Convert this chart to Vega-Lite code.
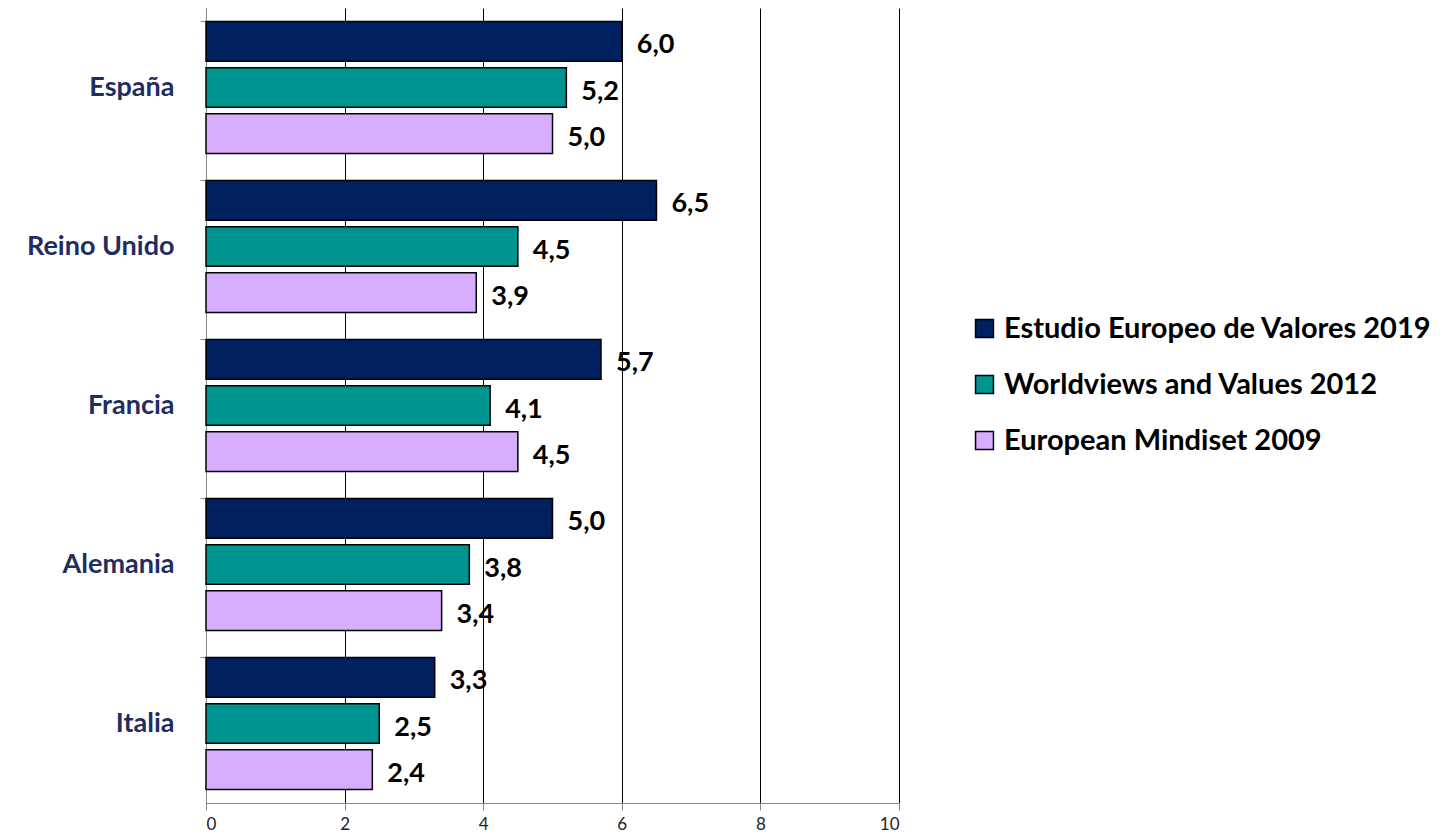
{
  "$schema": "https://vega.github.io/schema/vega-lite/v6.json",
  "width": 693,
  "height": 795,
  "autosize": {"type": "none"},
  "padding": {"left": 206, "top": 8, "right": 551, "bottom": 35},
  "background": "white",
  "config": {
    "view": {"stroke": null},
    "locale": {"number": {"decimal": ",", "thousands": ".", "grouping": [3], "currency": ["", " €"]}}
  },
  "data": {
    "values": [
      {"pais": "España", "serie": "Estudio Europeo de Valores 2019", "valor": 6.0},
      {"pais": "España", "serie": "Worldviews and Values 2012", "valor": 5.2},
      {"pais": "España", "serie": "European Mindiset 2009", "valor": 5.0},
      {"pais": "Reino Unido", "serie": "Estudio Europeo de Valores 2019", "valor": 6.5},
      {"pais": "Reino Unido", "serie": "Worldviews and Values 2012", "valor": 4.5},
      {"pais": "Reino Unido", "serie": "European Mindiset 2009", "valor": 3.9},
      {"pais": "Francia", "serie": "Estudio Europeo de Valores 2019", "valor": 5.7},
      {"pais": "Francia", "serie": "Worldviews and Values 2012", "valor": 4.1},
      {"pais": "Francia", "serie": "European Mindiset 2009", "valor": 4.5},
      {"pais": "Alemania", "serie": "Estudio Europeo de Valores 2019", "valor": 5.0},
      {"pais": "Alemania", "serie": "Worldviews and Values 2012", "valor": 3.8},
      {"pais": "Alemania", "serie": "European Mindiset 2009", "valor": 3.4},
      {"pais": "Italia", "serie": "Estudio Europeo de Valores 2019", "valor": 3.3},
      {"pais": "Italia", "serie": "Worldviews and Values 2012", "valor": 2.5},
      {"pais": "Italia", "serie": "European Mindiset 2009", "valor": 2.4}
    ]
  },
  "encoding": {
    "y": {
      "field": "pais", "type": "nominal",
      "sort": ["España", "Reino Unido", "Francia", "Alemania", "Italia"],
      "scale": {"paddingInner": 0.17, "paddingOuter": 0.085},
      "axis": {
        "title": null, "bandPosition": 0, "domainColor": "#888888", "tickColor": "#888888",
        "tickSize": 6, "labelFont": "Lato", "labelFontWeight": "bold", "labelFontSize": 27,
        "labelColor": "#1F2D5F", "labelPadding": 26, "grid": false
      }
    },
    "yOffset": {
      "field": "serie", "type": "nominal",
      "sort": ["Estudio Europeo de Valores 2019", "Worldviews and Values 2012", "European Mindiset 2009"],
      "scale": {"paddingInner": 0.14}
    },
    "x": {
      "field": "valor", "type": "quantitative",
      "scale": {"domain": [0, 10]},
      "axis": {
        "title": null, "values": [0, 2, 4, 6, 8, 10], "format": "d", "grid": true, "gridColor": "#000000",
        "gridWidth": 1, "domainColor": "#888888", "tickColor": "#888888", "tickSize": 7,
        "labelFont": "Lato", "labelFontSize": 17, "labelColor": "#222222", "labelPadding": 6
      }
    }
  },
  "layer": [
    {
      "mark": {"type": "bar", "stroke": "#000000", "strokeWidth": 1.5},
      "encoding": {
        "color": {
          "field": "serie", "type": "nominal",
          "sort": ["Estudio Europeo de Valores 2019", "Worldviews and Values 2012", "European Mindiset 2009"],
          "scale": {
            "domain": ["Estudio Europeo de Valores 2019", "Worldviews and Values 2012", "European Mindiset 2009"],
            "range": ["#002060", "#009490", "#D7AEFF"]
          },
          "legend": {
            "title": null, "orient": "none", "legendX": 764, "legendY": 306,
            "symbolType": "square", "symbolSize": 320, "symbolStrokeColor": "#000000", "symbolStrokeWidth": 1.5,
            "labelFont": "Lato", "labelFontWeight": "bold", "labelFontSize": 29, "labelColor": "#000000",
            "rowPadding": 26, "labelOffset": 5, "labelLimit": 600
          }
        }
      }
    },
    {
      "mark": {"type": "text", "align": "left", "baseline": "middle", "dx": 15, "dy": 4,
        "font": "Lato", "fontWeight": "bold", "fontSize": 27, "color": "#000000"},
      "encoding": {
        "text": {"field": "valor", "type": "quantitative", "format": ".1f"}
      }
    }
  ]
}
